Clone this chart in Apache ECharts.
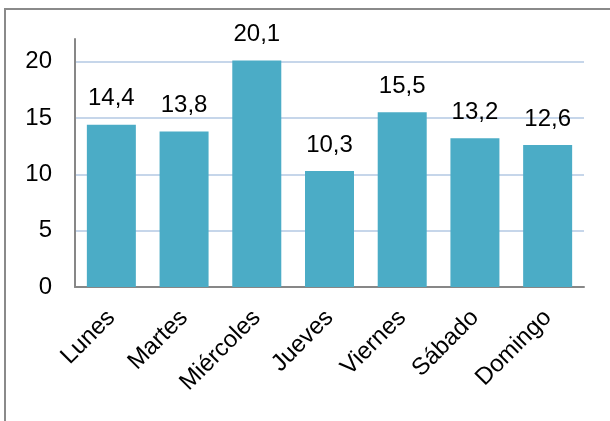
<!DOCTYPE html>
<html>
<head>
<meta charset="utf-8">
<script src="https://cdn.jsdelivr.net/npm/echarts@6/dist/echarts.min.js"></script>
<style>
html,body{margin:0;padding:0;background:#fff;}
#chart{width:610px;height:421px;}
</style>
</head>
<body>
<div id="chart"></div>
<script>
const categories = ['Lunes','Martes','Miércoles','Jueves','Viernes','Sábado','Domingo'];
const values = [14.4, 13.8, 20.1, 10.3, 15.5, 13.2, 12.6];
const yTicks = [0, 5, 10, 15, 20];

const fmt = v => String(v).replace('.', ',');
const FONT = '"Liberation Sans", Arial, sans-serif';

const chart = echarts.init(document.getElementById('chart'), null, {renderer: 'canvas'});
chart.setOption({
  animation: false,
  backgroundColor: '#ffffff',
  graphic: [{
    type: 'rect',
    shape: {x: 5, y: 9, width: 700, height: 500},
    style: {fill: 'none', stroke: '#8a8a8a', lineWidth: 2},
    silent: true
  }],
  grid: {left: 75, right: 26, top: 39, bottom: 134, containLabel: false},
  xAxis: {
    type: 'category',
    data: categories,
    axisLine: {lineStyle: {color: '#878787', width: 2}},
    axisTick: {show: false},
    axisLabel: {rotate: 45, fontSize: 24, color: '#000', fontFamily: FONT, margin: 27, interval: 0}
  },
  yAxis: {
    type: 'value',
    min: 0,
    max: 22,
    interval: 5,
    axisLine: {show: true, lineStyle: {color: '#878787', width: 2}},
    axisTick: {show: false},
    axisLabel: {
      fontSize: 24, color: '#000', fontFamily: FONT, margin: 23,
      showMaxLabel: false,
      formatter: v => yTicks.includes(v) ? String(v) : ''
    },
    splitLine: {show: true, showMaxLine: false, lineStyle: {color: ['#c6d6ea','#c6d6ea','#c6d6ea','#c6d6ea','#c6d6ea','rgba(0,0,0,0)'], width: 2}}
  },
  series: [{
    type: 'bar',
    data: values,
    barWidth: 49,
    itemStyle: {color: '#4bacc6'},
    label: {
      show: true, position: 'top', distance: 14,
      fontSize: 24, color: '#000', fontFamily: FONT,
      formatter: p => fmt(p.value)
    }
  }]
});
</script>
</body>
</html>
